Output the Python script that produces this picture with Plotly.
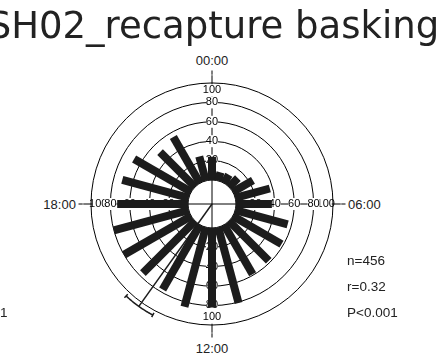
import numpy as np
import plotly.graph_objects as go

# Hourly activity counts (bin centre at each full hour)
hours = list(range(24))
counts = [24, 9, 10, 13, 24, 37, 37, 56, 58, 58, 59, 81,
          82, 85, 77, 76, 80, 80, 73, 71, 68, 51, 55, 26]

# Axis labels
axis_times = ["00:00", "06:00", "12:00", "18:00"]
axis_angles = [0, 90, 180, 270]
ring_values = [20, 40, 60, 80]
ring_max = 100

# Mean direction and its confidence interval (hours)
mean_hour = 14.37
ci_hours = [13.87, 14.87]
stats_lines = ["n=456", "r=0.32", "P<0.001"]

W, H = 441, 358
CX, CY = 212, 204                    # polar centre in pixels
HOLE_PX = 24                          # radius of the empty centre
PX_PER_UNIT = 0.97                    # radial pixels per count
R_TOP = 108                           # radial range end (room for the CI arc)
RAD = HOLE_PX + PX_PER_UNIT * R_TOP   # pixel radius of the plotting area
R_MIN = -HOLE_PX / PX_PER_UNIT
VEC_R = 105                           # radius of the mean vector / CI arc
FONT = "Liberation Sans, Arial, sans-serif"
INK = "#1c1c1c"

def h2deg(h):
    return h * 15.0

fig = go.Figure()

def ring_labels(rs, ts, texts, box):
    # white box behind each label so grid lines stop at the text
    fig.add_trace(go.Scatterpolar(
        r=rs, theta=ts, mode="markers",
        marker=dict(symbol="square", size=box, color="white",
                    line=dict(width=0)),
        hoverinfo="skip", showlegend=False))
    fig.add_trace(go.Scatterpolar(
        r=rs, theta=ts, mode="text", opacity=0.99,
        text=texts, textposition="middle center",
        textfont=dict(size=11, color="black", family="Liberation Sans"),
        hoverinfo="skip", showlegend=False))

# outermost label (100) first so the inner ring labels sit on top of it
ring_labels([ring_max * 0.925] * len(axis_angles), axis_angles,
            [str(ring_max)] * len(axis_angles), 12)

lab_r, lab_t, lab_s = [], [], []
for a in axis_angles:
    for v in ring_values:
        lab_r.append(v)
        lab_t.append(a)
        lab_s.append(str(v))
ring_labels(lab_r, lab_t, lab_s, 12)

# bars: one thick radial stroke per hour
bar_r, bar_t = [], []
for h, c in zip(hours, counts):
    bar_r += [0, c, None]
    bar_t += [h2deg(h), h2deg(h), None]
fig.add_trace(go.Scatterpolar(
    r=bar_r, theta=bar_t, mode="lines",
    line=dict(color=INK, width=8),
    connectgaps=False, hoverinfo="skip", showlegend=False))

# mean vector
mdeg = h2deg(mean_hour)
fig.add_trace(go.Scatterpolar(
    r=[R_MIN, VEC_R], theta=[mdeg, mdeg], mode="lines",
    line=dict(color=INK, width=1.5),
    hoverinfo="skip", showlegend=False))

# confidence interval arc with end caps
lo, hi = h2deg(ci_hours[0]), h2deg(ci_hours[1])
arc_t = [float(t) for t in np.linspace(lo, hi, 40)]
fig.add_trace(go.Scatterpolar(
    r=[VEC_R] * len(arc_t), theta=arc_t, mode="lines",
    line=dict(color=INK, width=1.5),
    hoverinfo="skip", showlegend=False))
for end in (lo, hi):
    fig.add_trace(go.Scatterpolar(
        r=[VEC_R - 2.5, VEC_R + 2.5], theta=[end, end], mode="lines",
        line=dict(color=INK, width=1.5),
        hoverinfo="skip", showlegend=False))

annotations = []
for i, s in enumerate(stats_lines):
    annotations.append(dict(
        x=345 / W, y=1 - (260 + 26 * i) / H, xref="paper", yref="paper",
        text=s, showarrow=False, xanchor="left", yanchor="middle",
        font=dict(size=13.5, color="#222", family=FONT)))
annotations.append(dict(
    x=-0.004, y=1 - 312 / H, xref="paper", yref="paper",
    text="1", showarrow=False, xanchor="left", yanchor="middle",
    font=dict(size=13.5, color="#222", family=FONT)))

fig.update_layout(
    width=W, height=H,
    margin=dict(l=0, r=0, t=0, b=0),
    paper_bgcolor="white",
    font=dict(family=FONT, color="#222"),
    title=dict(text="SH02_recapture basking", x=0.484, xanchor="center",
               xref="container", yref="container", y=0.966, yanchor="top",
               font=dict(size=37, color="#222", family="DejaVu Sans")),
    annotations=annotations,
    polar=dict(
        domain=dict(x=[(CX - RAD) / W, (CX + RAD) / W],
                    y=[1 - (CY + RAD) / H, 1 - (CY - RAD) / H]),
        bgcolor="white",
        radialaxis=dict(range=[R_MIN, R_TOP],
                        tickmode="array",
                        tickvals=[0] + ring_values + [ring_max],
                        showticklabels=False, ticks="", showline=False,
                        gridcolor="black", gridwidth=1,
                        layer="below traces"),
        angularaxis=dict(rotation=90, direction="clockwise",
                         tickmode="array", tickvals=axis_angles,
                         ticktext=axis_times, ticks="outside",
                         ticklen=133 - RAD,
                         tickwidth=1, tickcolor="black",
                         showgrid=True, gridcolor="black", gridwidth=1,
                         showline=False,
                         tickfont=dict(size=13, color="#222", family=FONT),
                         layer="below traces"),
    ),
)

fig.write_html("out.html")
